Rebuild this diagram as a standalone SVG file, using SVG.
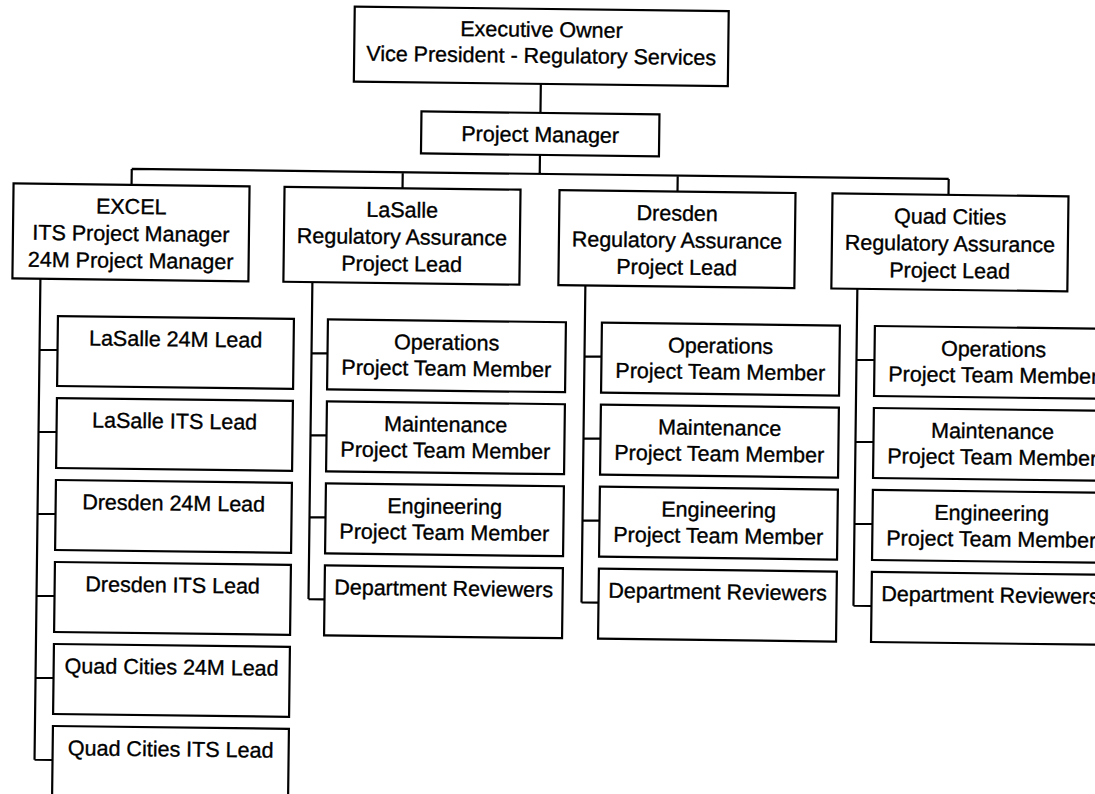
<svg xmlns="http://www.w3.org/2000/svg" width="1095" height="794" viewBox="0 0 1095 794">
<style>
.box{fill:#fff;stroke:#000;stroke-width:2.2}
.t{font-family:"Liberation Sans",Arial,sans-serif;font-size:21.5px;text-anchor:middle;fill:#000;stroke:#000;stroke-width:0.35}
.c{fill:none;stroke:#000;stroke-width:2.2}
</style>
<rect width="1095" height="794" fill="#fff"/>
<g transform="rotate(0.7 547 397)">
<g id="connectors" class="c">
<path d="M537 84V113M537 155V174M129 174H946M129 174V190M400 174V190M675 174V190M946 174V190"/>
<path d="M39 285V766M39 356H57M39 438H57M39 520H57M39 602H57M39 684H57M39 766H57"/>
<path d="M311 285V602M311 356H327M311 438H327M311 520H327M311 602H327"/>
<path d="M584 285V602M584 356H601M584 438H601M584 520H601M584 602H601"/>
<path d="M856 285V602M856 356H874M856 438H874M856 520H874M856 602H874"/>
</g>
<g id="exec"><rect class="box" x="350" y="9" width="374" height="75"/><text class="t" x="537" y="37">Executive Owner</text><text class="t" x="537" y="63">Vice President - Regulatory Services</text></g>
<g id="pm"><rect class="box" x="418" y="113" width="238" height="42"/><text class="t" x="537" y="142">Project Manager</text></g>
<g id="excel"><rect class="box" x="11" y="190" width="236" height="95"/><text class="t" x="129" y="219">EXCEL</text><text class="t" x="129" y="246">ITS Project Manager</text><text class="t" x="129" y="273">24M Project Manager</text></g>
<g id="lasalle"><rect class="box" x="282" y="190" width="236" height="95"/><text class="t" x="400" y="219">LaSalle</text><text class="t" x="400" y="246">Regulatory Assurance</text><text class="t" x="400" y="273">Project Lead</text></g>
<g id="dresden"><rect class="box" x="557" y="190" width="236" height="95"/><text class="t" x="675" y="219">Dresden</text><text class="t" x="675" y="246">Regulatory Assurance</text><text class="t" x="675" y="273">Project Lead</text></g>
<g id="quad"><rect class="box" x="830" y="190" width="236" height="95"/><text class="t" x="948" y="219">Quad Cities</text><text class="t" x="948" y="246">Regulatory Assurance</text><text class="t" x="948" y="273">Project Lead</text></g>
<g id="ls24m"><rect class="box" x="57" y="322" width="236" height="70"/><text class="t" x="175" y="351">LaSalle 24M Lead</text></g>
<g id="lsits"><rect class="box" x="57" y="404" width="236" height="70"/><text class="t" x="175" y="433">LaSalle ITS Lead</text></g>
<g id="dr24m"><rect class="box" x="57" y="486" width="236" height="70"/><text class="t" x="175" y="515">Dresden 24M Lead</text></g>
<g id="drits"><rect class="box" x="57" y="568" width="236" height="70"/><text class="t" x="175" y="597">Dresden ITS Lead</text></g>
<g id="qc24m"><rect class="box" x="57" y="650" width="236" height="70"/><text class="t" x="175" y="679">Quad Cities 24M Lead</text></g>
<g id="qcits"><rect class="box" x="57" y="732" width="236" height="70"/><text class="t" x="175" y="761">Quad Cities ITS Lead</text></g>
<g id="ls-ops"><rect class="box" x="327" y="322" width="238" height="70"/><text class="t" x="446" y="351">Operations</text><text class="t" x="446" y="377">Project Team Member</text></g>
<g id="ls-mnt"><rect class="box" x="327" y="404" width="238" height="70"/><text class="t" x="446" y="433">Maintenance</text><text class="t" x="446" y="459">Project Team Member</text></g>
<g id="ls-eng"><rect class="box" x="327" y="486" width="238" height="70"/><text class="t" x="446" y="515">Engineering</text><text class="t" x="446" y="541">Project Team Member</text></g>
<g id="ls-dept"><rect class="box" x="327" y="568" width="238" height="70"/><text class="t" x="446" y="597">Department Reviewers</text></g>
<g id="dr-ops"><rect class="box" x="601" y="322" width="238" height="70"/><text class="t" x="720" y="351">Operations</text><text class="t" x="720" y="377">Project Team Member</text></g>
<g id="dr-mnt"><rect class="box" x="601" y="404" width="238" height="70"/><text class="t" x="720" y="433">Maintenance</text><text class="t" x="720" y="459">Project Team Member</text></g>
<g id="dr-eng"><rect class="box" x="601" y="486" width="238" height="70"/><text class="t" x="720" y="515">Engineering</text><text class="t" x="720" y="541">Project Team Member</text></g>
<g id="dr-dept"><rect class="box" x="601" y="568" width="238" height="70"/><text class="t" x="720" y="597">Department Reviewers</text></g>
<g id="qc-ops"><rect class="box" x="874" y="322" width="238" height="70"/><text class="t" x="993" y="351">Operations</text><text class="t" x="993" y="377">Project Team Member</text></g>
<g id="qc-mnt"><rect class="box" x="874" y="404" width="238" height="70"/><text class="t" x="993" y="433">Maintenance</text><text class="t" x="993" y="459">Project Team Member</text></g>
<g id="qc-eng"><rect class="box" x="874" y="486" width="238" height="70"/><text class="t" x="993" y="515">Engineering</text><text class="t" x="993" y="541">Project Team Member</text></g>
<g id="qc-dept"><rect class="box" x="874" y="568" width="238" height="70"/><text class="t" x="993" y="597">Department Reviewers</text></g>
</g>
</svg>
